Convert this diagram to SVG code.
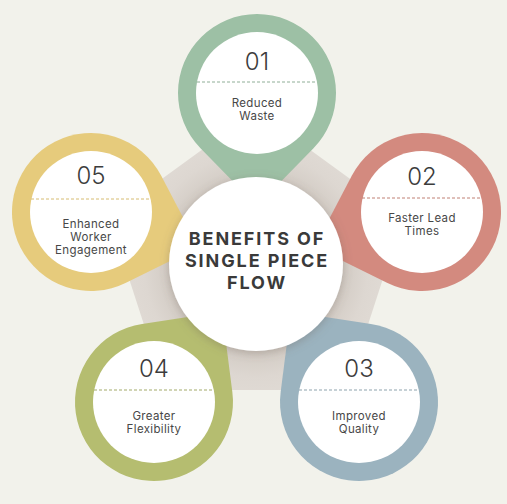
<svg xmlns="http://www.w3.org/2000/svg" width="507" height="504" viewBox="0 0 507 504">
  <defs>
    <filter id="shadow" x="-30%" y="-30%" width="160%" height="160%">
      <feDropShadow dx="0" dy="2" stdDeviation="5" flood-color="#6b5f55" flood-opacity="0.35"/>
    </filter>
    <radialGradient id="pentGrad" cx="256" cy="265" r="160" gradientUnits="userSpaceOnUse">
      <stop offset="0.55" stop-color="#d3ccc5"/>
      <stop offset="0.7" stop-color="#ddd7d1"/>
      <stop offset="1" stop-color="#e4dfd9"/>
    </radialGradient>
    <path id="drop" d="M 0 113 L 56.5 55.2 A 79 79 0 1 0 -56.5 55.2 Z"/>
  </defs>
  <style>
    .num { font-family: Inter, "Liberation Sans", sans-serif; font-size: 24px; font-weight: 300; fill: #3c3c3c; text-anchor: middle; }
    .lbl { font-family: Inter, "Liberation Sans", sans-serif; font-size: 11.5px; fill: #474747; text-anchor: middle; letter-spacing: 0.35px; }
    .title { font-family: Inter, "Liberation Sans", sans-serif; font-size: 18px; font-weight: 700; fill: #3a3a3a; text-anchor: middle; letter-spacing: 1.9px; }
    .inner { fill: #ffffff; }
    .dash { stroke-width: 1; stroke-dasharray: 3 2; fill: none; }
  </style>
  <rect width="507" height="504" fill="#f2f2eb"/>
  <polygon points="256,110.5 402.9,217.3 346.8,390 165.2,390 109.1,217.3" fill="url(#pentGrad)"/>

  <g id="connectors"></g>

  <g id="node-01">
    <use href="#drop" transform="translate(257,93) rotate(0)" fill="#9dc0a5"/>
    <circle class="inner" cx="257" cy="93" r="61"/>
    <line class="dash" x1="197" y1="82" x2="317" y2="82" stroke="#8fae97"/>
    <text class="num" x="257" y="70">01</text>
    <text class="lbl" x="257" y="107">Reduced</text>
    <text class="lbl" x="257" y="120">Waste</text>
  </g>

  <g id="node-02">
    <use href="#drop" transform="translate(422,212) rotate(72)" fill="#d38a7f"/>
    <circle class="inner" cx="422" cy="212" r="61"/>
    <line class="dash" x1="362" y1="198" x2="482" y2="198" stroke="#c08075"/>
    <text class="num" x="422" y="185">02</text>
    <text class="lbl" x="422" y="222">Faster Lead</text>
    <text class="lbl" x="422" y="235">Times</text>
  </g>

  <g id="node-03">
    <use href="#drop" transform="translate(359,402) rotate(143)" fill="#9bb3bf"/>
    <circle class="inner" cx="359" cy="402" r="61"/>
    <line class="dash" x1="299" y1="390" x2="419" y2="390" stroke="#8ea3ad"/>
    <text class="num" x="359" y="377">03</text>
    <text class="lbl" x="359" y="420">Improved</text>
    <text class="lbl" x="359" y="433">Quality</text>
  </g>

  <g id="node-04">
    <use href="#drop" transform="translate(154,402) rotate(-143)" fill="#b5bd70"/>
    <circle class="inner" cx="154" cy="402" r="61"/>
    <line class="dash" x1="94" y1="390" x2="214" y2="390" stroke="#a3aa6a"/>
    <text class="num" x="154" y="377">04</text>
    <text class="lbl" x="154" y="420">Greater</text>
    <text class="lbl" x="154" y="433">Flexibility</text>
  </g>

  <g id="node-05">
    <use href="#drop" transform="translate(91,212) rotate(-72)" fill="#e6cb7c"/>
    <circle class="inner" cx="91" cy="212" r="61"/>
    <line class="dash" x1="31" y1="199" x2="151" y2="199" stroke="#d6bc72"/>
    <text class="num" x="91" y="184">05</text>
    <text class="lbl" x="91" y="228">Enhanced</text>
    <text class="lbl" x="91" y="241">Worker</text>
    <text class="lbl" x="91" y="254">Engagement</text>
  </g>

  <g id="node-center">
    <circle cx="256" cy="264" r="87" fill="#ffffff" filter="url(#shadow)"/>
    <text class="title" x="257" y="245">BENEFITS OF</text>
    <text class="title" x="257" y="267">SINGLE PIECE</text>
    <text class="title" x="257" y="289">FLOW</text>
  </g>
</svg>
